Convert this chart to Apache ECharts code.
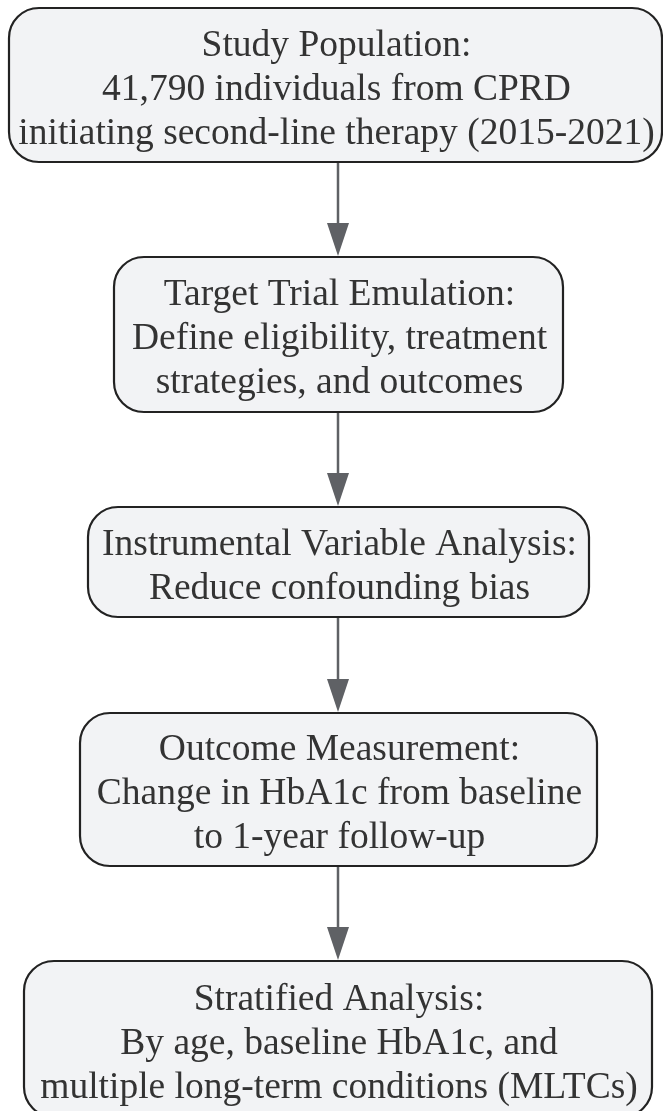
<!DOCTYPE html>
<html>
<head>
<meta charset="utf-8">
<script src="https://cdn.jsdelivr.net/npm/echarts@6/dist/echarts.min.js"></script>
<style>
  html, body { margin: 0; padding: 0; background: #fff; }
  #main { width: 663px; height: 1111px; }
</style>
</head>
<body>
<div id="main"></div>
<script>
// flowchart steps (text only)
const stepTitles = [
  'Study Population:',
  'Target Trial Emulation:',
  'Instrumental Variable Analysis:',
  'Outcome Measurement:',
  'Stratified Analysis:'
]
const stepDetails = [
  ['41,790 individuals from CPRD', 'initiating second-line therapy (2015-2021)'],
  ['Define eligibility, treatment', 'strategies, and outcomes'],
  ['Reduce confounding bias'],
  ['Change in HbA1c from baseline', 'to 1-year follow-up'],
  ['By age, baseline HbA1c, and', 'multiple long-term conditions (MLTCs)']
]

// box layout: [left, top, right, bottom]
const boxes = [
  [9, 8, 662, 162],
  [114, 257, 563, 412],
  [88, 507, 589, 617],
  [80, 713, 597, 866],
  [24, 961, 652, 1117]
]

const chart = echarts.init(document.getElementById('main'))

const lineColor = '#222'
const fillColor = '#f2f3f5'
const arrowColor = '#5f6165'
const cx = 338

const elements = []
boxes.forEach(function (b, i) {
  elements.push({
    type: 'rect',
    shape: { x: b[0], y: b[1], width: b[2] - b[0], height: b[3] - b[1], r: 30 },
    style: { fill: fillColor, stroke: lineColor, lineWidth: 2.2 }
  })
  elements.push({
    type: 'text',
    x: (b[0] + b[2]) / 2 + 1,
    y: (b[1] + b[3]) / 2 + 5,
    style: {
      text: [stepTitles[i]].concat(stepDetails[i]).join('\n'),
      font: '37.5px "Liberation Serif"',
      fill: '#333',
      align: 'center',
      verticalAlign: 'middle',
      lineHeight: 44
    }
  })
  if (i < boxes.length - 1) {
    const y1 = b[3] + 1
    const y2 = boxes[i + 1][1] - 1
    elements.push({
      type: 'line',
      shape: { x1: cx, y1: y1, x2: cx, y2: y2 - 30 },
      style: { stroke: arrowColor, lineWidth: 2.5 }
    })
    elements.push({
      type: 'polygon',
      shape: { points: [[cx - 11, y2 - 33], [cx + 11, y2 - 33], [cx, y2]] },
      style: { fill: arrowColor }
    })
  }
})

chart.setOption({
  animation: false,
  graphic: { elements: elements }
})
</script>
</body>
</html>
